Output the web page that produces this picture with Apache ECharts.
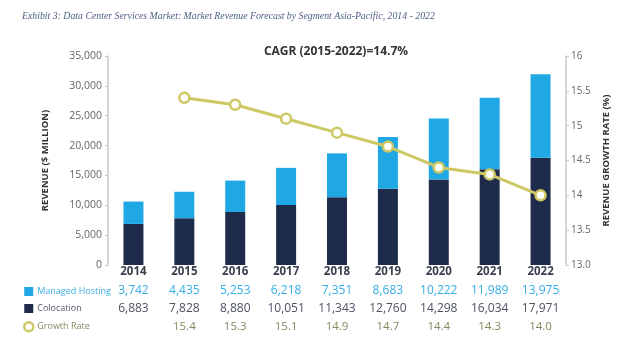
<!DOCTYPE html>
<html>
<head>
<meta charset="utf-8">
<script src="https://cdn.jsdelivr.net/npm/echarts@6/dist/echarts.min.js"></script>
<style>
html,body{margin:0;padding:0;background:#fff;}
#chart{width:635px;height:343px;}
</style>
</head>
<body>
<div id="chart"></div>
<script>
const years = ['2014','2015','2016','2017','2018','2019','2020','2021','2022'];
const managedHosting = [3742, 4435, 5253, 6218, 7351, 8683, 10222, 11989, 13975];
const colocation = [6883, 7828, 8880, 10051, 11343, 12760, 14298, 16034, 17971];
const growthRate = [null, 15.4, 15.3, 15.1, 14.9, 14.7, 14.4, 14.3, 14.0];
const leftTicks = [0, 5000, 10000, 15000, 20000, 25000, 30000, 35000];
const rightTicks = [13.0, 13.5, 14, 14.5, 15, 15.5, 16];

const C_MH = '#1fa8e4';
const C_CO = '#1f2b4a';
const C_GR = '#cdc864';
const FONT = '"Open Sans", "Noto Sans", sans-serif';

function fmt(n){ return n.toLocaleString('en-US'); }

const chart = echarts.init(document.getElementById('chart'), null, {renderer:'canvas'});
chart.setOption({
  backgroundColor:'#fff',
  animation:false,
  textStyle:{fontFamily:FONT},
  title:[{
    text:'Exhibit 3: Data Center Services Market: Market Revenue Forecast by Segment Asia-Pacific, 2014 - 2022',
    left:22, top:11, padding:0,
    textStyle:{fontFamily:'"Liberation Serif", serif', fontStyle:'italic', fontWeight:'normal', fontSize:9.8, color:'#4f5e86'}
  },{
    text:'CAGR (2015-2022)=14.7%',
    left:336, top:46, textAlign:'center', padding:0,
    textStyle:{fontFamily:FONT, fontWeight:'bold', fontSize:12, color:'#333'}
  }],
  legend:{
    orient:'vertical', left:23, top:287, padding:0,
    itemWidth:9, itemHeight:9, itemGap:8, 
    textStyle:{fontSize:9, fontFamily:FONT, padding:[0,0,0,-1]},
    data:[
      {name:'Managed Hosting', icon:'rect', textStyle:{color:'#3aaee5'}},
      {name:'Colocation', icon:'rect', textStyle:{color:'#555a68'}},
      {name:'Growth Rate', icon:'circle', itemStyle:{color:'#fff', borderColor:C_GR, borderWidth:2.5}, textStyle:{color:'#8a8660'}}
    ]
  },
  grid:{left:108, right:69, top:56, bottom:78},
  xAxis:{
    type:'category', data:years,
    axisLine:{show:false}, axisTick:{show:false},
    axisLabel:{
      margin:-3, interval:0,
      formatter:function(v, i){
        const g = growthRate[i] == null ? ' ' : growthRate[i].toFixed(1);
        return '{y|'+v+'}\n{m|'+fmt(managedHosting[i])+'}\n{c|'+fmt(colocation[i])+'}\n{g|'+g+'}';
      },
      rich:{
        y:{fontWeight:'bold', fontSize:11.5, color:'#3a3f4c', lineHeight:20, fontFamily:FONT},
        m:{fontSize:12, color:'#35aee6', lineHeight:18, fontFamily:FONT},
        c:{fontSize:12, color:'#4e5262', lineHeight:18, fontFamily:FONT},
        g:{fontSize:11.5, color:'#8a8660', lineHeight:18, fontFamily:FONT}
      }
    }
  },
  yAxis:[{
    type:'value', min:0, max:35000, interval:5000,
    name:'REVENUE ($ MILLION)', nameLocation:'middle', nameGap:58, nameRotate:90,
    nameTextStyle:{fontWeight:'bold', fontSize:9.5, color:'#333', fontFamily:FONT},
    splitLine:{show:false},
    axisLine:{show:true, lineStyle:{color:'#c8c8c8', width:1.5}},
    axisTick:{show:true, length:3, lineStyle:{color:'#c8c8c8'}},
    axisLabel:{fontSize:10.5, color:'#666', margin:6, formatter:function(v){return fmt(v);}}
  },{
    type:'value', min:13, max:16, interval:0.5,
    name:'REVENUE GROWTH RATE (%)', nameLocation:'middle', nameGap:31, nameRotate:90,
    nameTextStyle:{fontWeight:'bold', fontSize:9.5, color:'#333', fontFamily:FONT},
    splitLine:{show:false},
    axisLine:{show:true, lineStyle:{color:'#c8c8c8', width:1.5}},
    axisTick:{show:true, length:3, lineStyle:{color:'#c8c8c8'}},
    axisLabel:{fontSize:10, color:'#666', margin:5, formatter:function(v){return v===13?'13.0':String(v);}}
  }],
  series:[{
    name:'Colocation', type:'bar', stack:'rev', data:colocation, barWidth:20,
    itemStyle:{color:C_CO}
  },{
    name:'Managed Hosting', type:'bar', stack:'rev', data:managedHosting, barWidth:20,
    itemStyle:{color:C_MH}
  },{
    name:'Growth Rate', type:'line', yAxisIndex:1, data:growthRate,
    symbol:'circle', symbolSize:10, connectNulls:false,
    lineStyle:{color:C_GR, width:3},
    itemStyle:{color:'#fff', borderColor:C_GR, borderWidth:2.5}
  }]
});
</script>
</body>
</html>
